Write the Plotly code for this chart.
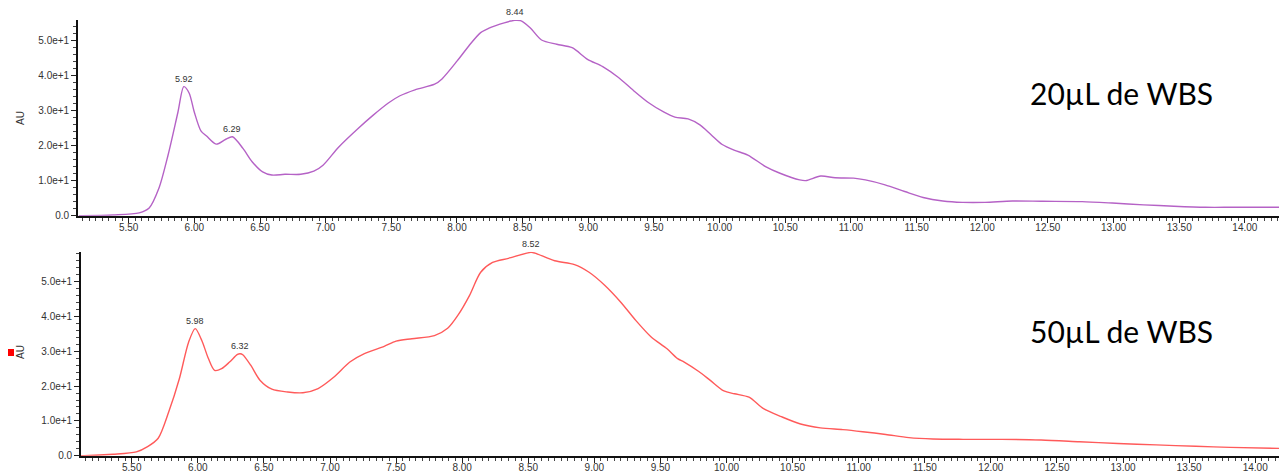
import plotly.graph_objects as go

W, H = 1279, 474

# ---- data ----
rt_20 = [5.12, 5.146, 5.38, 5.58, 5.656, 5.73, 5.80, 5.875, 5.92, 5.96, 6.00, 6.05, 6.093, 6.166, 6.24, 6.29,
         6.37, 6.44, 6.52, 6.59, 6.69, 6.81, 6.91, 6.98, 7.10, 7.245, 7.36, 7.48, 7.566, 7.68, 7.83,
         7.886, 8.003, 8.09, 8.18, 8.24, 8.295, 8.36, 8.41, 8.44, 8.484, 8.557, 8.644, 8.76, 8.877, 8.994, 9.11,
         9.23, 9.344, 9.46, 9.577, 9.66, 9.76, 9.85, 9.935, 10.02, 10.11, 10.215, 10.35, 10.46, 10.61,
         10.656, 10.77, 10.88, 11.02, 11.11, 11.26, 11.41, 11.55, 11.70, 11.85, 12.02, 12.23, 12.46,
         12.76, 12.99, 13.23, 13.46, 13.70, 13.91, 14.26]
au_20 = [0.0, 0.0, 0.2, 0.8, 2.2, 7.8, 17.3, 29.5, 36.8, 35.0, 29.5, 24.2, 22.7, 20.4, 21.8, 22.5,
         19.2, 15.4, 12.5, 11.6, 11.8, 11.8, 12.7, 14.4, 19.6, 24.8, 28.6, 32.2, 34.2, 35.9, 37.5,
         39.0, 44.2, 48.4, 52.2, 53.4, 54.2, 55.0, 55.5, 55.7, 55.6, 53.6, 50.1, 48.9, 47.9, 44.6, 42.5,
         39.4, 35.7, 32.2, 29.5, 28.1, 27.6, 25.9, 23.1, 20.3, 18.7, 17.3, 14.0, 12.1, 10.2,
         10.0, 11.3, 10.8, 10.7, 10.2, 8.8, 6.9, 5.2, 4.2, 3.8, 3.8, 4.2, 4.1,
         4.0, 3.6, 3.1, 2.7, 2.4, 2.4, 2.4]

rt_50 = [5.11, 5.14, 5.36, 5.535, 5.62, 5.70, 5.78, 5.86, 5.93, 5.98, 6.03, 6.08, 6.127, 6.18, 6.24,
         6.30, 6.32, 6.34, 6.40, 6.47, 6.56, 6.68, 6.795, 6.91, 7.03, 7.15, 7.26, 7.41, 7.50, 7.62,
         7.79, 7.89, 7.967, 8.055, 8.14, 8.23, 8.35, 8.52, 8.55, 8.70, 8.85, 8.96, 9.08, 9.20,
         9.315, 9.43, 9.55, 9.63, 9.68, 9.79, 9.875, 9.98, 10.06, 10.17, 10.28, 10.415, 10.56,
         10.71, 10.88, 11.03, 11.205, 11.38, 11.56, 11.79, 12.08, 12.38, 12.67, 12.96, 13.25,
         13.55, 13.81, 14.18]
au_50 = [0.0, 0.0, 0.4, 1.1, 2.6, 5.0, 12.6, 22.1, 32.6, 36.5, 33.1, 27.9, 24.5, 25.0, 26.9,
         29.1, 29.3, 29.0, 26.0, 21.7, 19.1, 18.3, 18.1, 19.3, 22.6, 26.9, 29.3, 31.4, 32.9, 33.6,
         34.5, 36.6, 40.3, 46.0, 52.7, 55.5, 56.7, 58.4, 58.2, 56.0, 54.9, 52.7, 48.9, 44.1,
         38.8, 34.1, 30.7, 27.9, 26.9, 24.2, 21.7, 18.6, 17.8, 16.8, 13.5, 11.2, 9.1,
         8.0, 7.5, 6.9, 6.1, 5.2, 4.8, 4.7, 4.7, 4.5, 4.0, 3.5, 3.1,
         2.7, 2.4, 2.1]

peak_rt_20 = [5.92, 6.29, 8.44]
peak_au_20 = [36.8, 22.5, 55.7]
peak_rt_50 = [5.98, 6.32, 8.52]
peak_au_50 = [36.5, 29.3, 58.4]

y_tickvals = [0, 10, 20, 30, 40, 50]
y_ticktext = ["0.0", "1.0e+1", "2.0e+1", "3.0e+1", "4.0e+1", "5.0e+1"]
x_tickvals = [5.5, 6.0, 6.5, 7.0, 7.5, 8.0, 8.5, 9.0, 9.5, 10.0, 10.5, 11.0, 11.5, 12.0, 12.5, 13.0, 13.5, 14.0]
x_ticktext = [f"{v:.2f}" for v in x_tickvals]

labels = ["20µL de WBS", "50µL de WBS"]
color_20 = "#B562C6"
color_50 = "#FF5A5A"

fig = go.Figure()
fig.add_trace(go.Scatter(x=rt_20, y=au_20, mode="lines", line=dict(color=color_20, width=1.4, shape="spline", smoothing=0.8),
                         xaxis="x", yaxis="y", showlegend=False))
fig.add_trace(go.Scatter(x=rt_50, y=au_50, mode="lines", line=dict(color=color_50, width=1.4, shape="spline", smoothing=0.8),
                         xaxis="x2", yaxis="y2", showlegend=False))

tickfont = dict(family="Liberation Sans, Arial", size=10, color="#333333")

def xaxis(domain, rng, anchor):
    return dict(domain=domain, range=rng, anchor=anchor, tickvals=x_tickvals, ticktext=x_ticktext,
                ticks="outside", ticklen=5, tickwidth=1, tickcolor="#222", showline=True, linecolor="#111",
                linewidth=1.6, showgrid=False, zeroline=False, tickfont=tickfont, automargin=False,
                ticklabelstandoff=-4,
                minor=dict(dtick=0.05, tick0=0, ticks="outside", ticklen=3, tickwidth=1, tickcolor="#444", showgrid=False))

def yaxis(domain, rng, anchor):
    return dict(domain=domain, range=rng, anchor=anchor, tickvals=y_tickvals, ticktext=y_ticktext,
                ticks="outside", ticklen=5, tickwidth=1, tickcolor="#222", showline=True, linecolor="#111",
                linewidth=1.6, showgrid=False, zeroline=False, tickfont=tickfont, automargin=False,
                minor=dict(dtick=2, tick0=0, ticks="outside", ticklen=3, tickwidth=1, tickcolor="#444", showgrid=False))

top_y = [1 - 215.7 / H, 1 - 20 / H]
bot_y = [1 - 455.7 / H, 1 - 251.7 / H]

fig.update_layout(
    width=W, height=H, template="none",
    margin=dict(l=0, r=0, t=0, b=0),
    paper_bgcolor="white", plot_bgcolor="white",
    xaxis=xaxis([78 / W, 1.0], [5.114, 14.26], "y"),
    yaxis=yaxis(top_y, [0, 55.8], "x"),
    xaxis2=xaxis([81 / W, 1.0], [5.116, 14.18], "y2"),
    yaxis2=yaxis(bot_y, [0, 58.6], "x2"),
)

ann = []
for rt, au in zip(peak_rt_20, peak_au_20):
    ann.append(dict(x=rt, y=au, xref="x", yref="y", text=f"{rt:.2f}", showarrow=False, yanchor="bottom",
                    yshift=1, font=dict(family="Liberation Sans, Arial", size=9, color="#333")))
for rt, au in zip(peak_rt_50, peak_au_50):
    ann.append(dict(x=rt, y=au, xref="x2", yref="y2", text=f"{rt:.2f}", showarrow=False, yanchor="bottom",
                    yshift=1, font=dict(family="Liberation Sans, Arial", size=9, color="#333")))

ann.append(dict(x=1121 / W, y=1 - 93 / H, xref="paper", yref="paper", text=labels[0], showarrow=False,
                xanchor="center", yanchor="middle", font=dict(family="Lato, Open Sans", size=30, color="#000")))
ann.append(dict(x=1121 / W, y=1 - 331 / H, xref="paper", yref="paper", text=labels[1], showarrow=False,
                xanchor="center", yanchor="middle", font=dict(family="Lato, Open Sans", size=30, color="#000")))
ann.append(dict(x=20 / W, y=1 - 118 / H, xref="paper", yref="paper", text="AU", showarrow=False, textangle=-90,
                xanchor="center", yanchor="middle", font=dict(family="Liberation Sans, Arial", size=10, color="#333")))
ann.append(dict(x=20 / W, y=1 - 352 / H, xref="paper", yref="paper", text="AU", showarrow=False, textangle=-90,
                xanchor="center", yanchor="middle", font=dict(family="Liberation Sans, Arial", size=10, color="#333")))
fig.update_layout(annotations=ann)

fig.add_shape(type="rect", xref="paper", yref="paper", x0=8 / W, x1=14 / W, y0=1 - 356 / H, y1=1 - 349 / H,
              fillcolor="#FF0000", line=dict(width=0))

fig.write_html("out.html", config={"displayModeBar": False},
               post_script="document.body.style.margin='0';document.body.style.overflow='hidden';")
